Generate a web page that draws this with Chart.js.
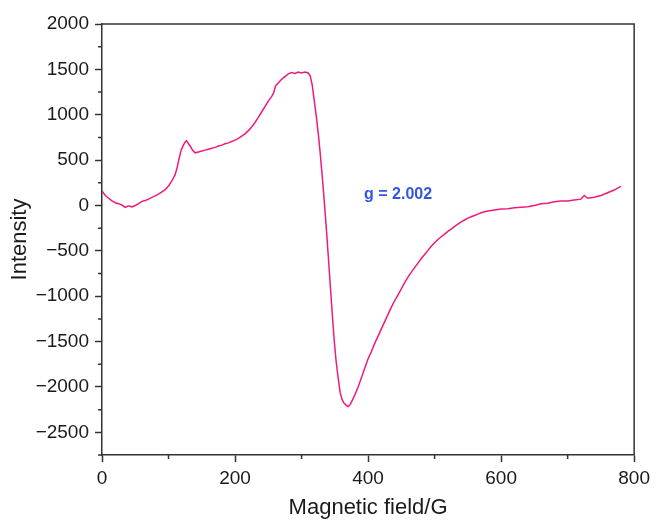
<!DOCTYPE html>
<html>
<head>
<meta charset="utf-8">
<script src="https://cdn.jsdelivr.net/npm/chart.js@4.4.1/dist/chart.umd.min.js"></script>
<style>
  html, body { margin: 0; padding: 0; background: #fff; }
  #wrap { width: 655px; height: 522px; }
</style>
</head>
<body>
<div id="wrap"><canvas id="epr"></canvas></div>
<script>
// EPR spectrum
const fieldG = [
  0, 5, 10, 15, 20, 25, 30, 35, 40, 45, 50, 55, 60, 65, 70, 75, 80, 85, 90, 95,
  100, 105, 110, 113, 116, 119, 122, 125, 127, 130, 133, 136, 140, 145, 150, 155, 160, 165, 170, 175,
  180, 185, 190, 195, 200, 205, 210, 215, 220, 225, 230, 235, 240, 245, 250, 255, 258, 261, 265, 270,
  275, 280, 285, 290, 295, 300, 305, 310, 313, 316, 319, 322, 325, 328, 331, 334, 337, 340, 343, 346,
  349, 352, 355, 358, 361, 364, 367, 370, 373, 376, 380, 385, 390, 395, 400, 405, 410, 415, 420, 425,
  430, 435, 440, 445, 450, 455, 460, 465, 470, 475, 480, 485, 490, 495, 500, 505, 510, 515, 520, 525,
  530, 535, 540, 545, 550, 555, 560, 565, 570, 575, 580, 585, 590, 595, 600, 610, 620, 630, 640, 650,
  660, 670, 680, 690, 700, 710, 720, 725, 730, 740, 750, 760, 770, 780
];
const intensity = [
  160, 110, 80, 50, 30, 20, 5, -20, -5, -15, 0, 20, 45, 55, 70, 90, 105, 125, 150, 175,
  215, 270, 340, 420, 520, 610, 660, 700, 715, 680, 650, 610, 580, 590, 600, 610, 620, 630, 640, 655,
  665, 680, 690, 705, 720, 740, 765, 790, 825, 865, 915, 970, 1030, 1090, 1150, 1200, 1240, 1320, 1350, 1390,
  1420, 1450, 1465, 1455, 1470, 1460, 1470, 1460, 1430, 1330, 1160, 990, 800, 580, 330, 60, -230, -540, -860, -1180,
  -1480, -1720, -1900, -2060, -2140, -2180, -2200, -2215, -2195, -2150, -2090, -2000, -1900, -1790, -1690, -1610, -1520, -1440, -1360, -1280,
  -1200, -1120, -1050, -985, -920, -850, -790, -735, -685, -635, -585, -540, -495, -450, -410, -375, -345, -315, -285, -260,
  -230, -205, -180, -160, -140, -125, -110, -95, -80, -70, -60, -55, -50, -45, -40, -35, -25, -20, -15, 0,
  20, 25, 40, 50, 50, 60, 70, 110, 80, 90, 110, 140, 170, 210
];

const xTicks = [0, 200, 400, 600, 800];
const xMinor = [100, 300, 500, 700];
const yTicks = [-2500, -2000, -1500, -1000, -500, 0, 500, 1000, 1500, 2000];
const yMinor = [-2750, -2250, -1750, -1250, -750, -250, 250, 750, 1250, 1750];

const noteText = "g = 2.002";
const noteX = 394;
const noteY = 115;

const axisColor = "#333";
const textColor = "#1a1a1a";
const fontFamily = "'Liberation Sans', Arial, sans-serif";

// plain numbers with a real minus sign, no thousands separator
const fmt = (v) => (v < 0 ? "\u2212" + Math.abs(v) : String(v));

// top/right frame, minor ticks and the g-value label
const extras = {
  id: "extras",
  afterDraw(chart) {
    const { ctx, chartArea: a, scales } = chart;
    ctx.save();
    ctx.strokeStyle = axisColor;
    ctx.lineWidth = 1.5;
    ctx.beginPath();
    ctx.moveTo(a.left, a.top);
    ctx.lineTo(a.right, a.top);
    ctx.lineTo(a.right, a.bottom);
    ctx.stroke();

    ctx.beginPath();
    xMinor.forEach((v) => {
      const px = scales.x.getPixelForValue(v);
      ctx.moveTo(px, a.bottom);
      ctx.lineTo(px, a.bottom + 4);
    });
    yMinor.forEach((v) => {
      const py = scales.y.getPixelForValue(v);
      ctx.moveTo(a.left, py);
      ctx.lineTo(a.left - 4, py);
    });
    ctx.stroke();

    ctx.fillStyle = "#3454e4";
    ctx.font = "bold 16px " + fontFamily;
    ctx.textAlign = "left";
    ctx.textBaseline = "middle";
    ctx.fillText(noteText, scales.x.getPixelForValue(noteX), scales.y.getPixelForValue(noteY));
    ctx.restore();
  },
};

new Chart(document.getElementById("epr"), {
  type: "scatter",
  data: {
    datasets: [
      {
        data: fieldG.map((x, i) => ({ x: x, y: intensity[i] })),
        showLine: true,
        borderColor: "#ee1b7d",
        borderWidth: 1.5,
        pointRadius: 0,
        tension: 0,
      },
    ],
  },
  options: {
    responsive: true,
    maintainAspectRatio: false,
    animation: false,
    layout: { padding: { top: 24, right: 19, left: 0, bottom: 0 } },
    plugins: { legend: { display: false }, tooltip: { enabled: false } },
    scales: {
      x: {
        type: "linear",
        min: 0,
        max: 800,
        afterBuildTicks: (s) => { s.ticks = xTicks.map((v) => ({ value: v })); },
        afterFit: (s) => { s.height = 67; },
        ticks: { color: textColor, font: { family: fontFamily, size: 19 }, padding: 5, maxRotation: 0, callback: fmt },
        grid: { drawOnChartArea: false, tickLength: 7, tickColor: axisColor, tickWidth: 1.5 },
        border: { color: axisColor, width: 1.5 },
        title: {
          display: true,
          text: "Magnetic field/G",
          color: textColor,
          font: { family: fontFamily, size: 22 },
          padding: { top: 0, bottom: 1 },
        },
      },
      y: {
        min: -2750,
        max: 2000,
        afterBuildTicks: (s) => { s.ticks = yTicks.map((v) => ({ value: v })); },
        afterFit: (s) => { s.width = 102; },
        ticks: { color: textColor, font: { family: fontFamily, size: 19 }, padding: 6, callback: fmt },
        grid: { drawOnChartArea: false, tickLength: 7, tickColor: axisColor, tickWidth: 1.5 },
        border: { color: axisColor, width: 1.5 },
        title: {
          display: true,
          text: "Intensity",
          color: textColor,
          font: { family: fontFamily, size: 22 },
          padding: { top: 7, bottom: 0 },
        },
      },
    },
  },
  plugins: [extras],
});
</script>
</body>
</html>
